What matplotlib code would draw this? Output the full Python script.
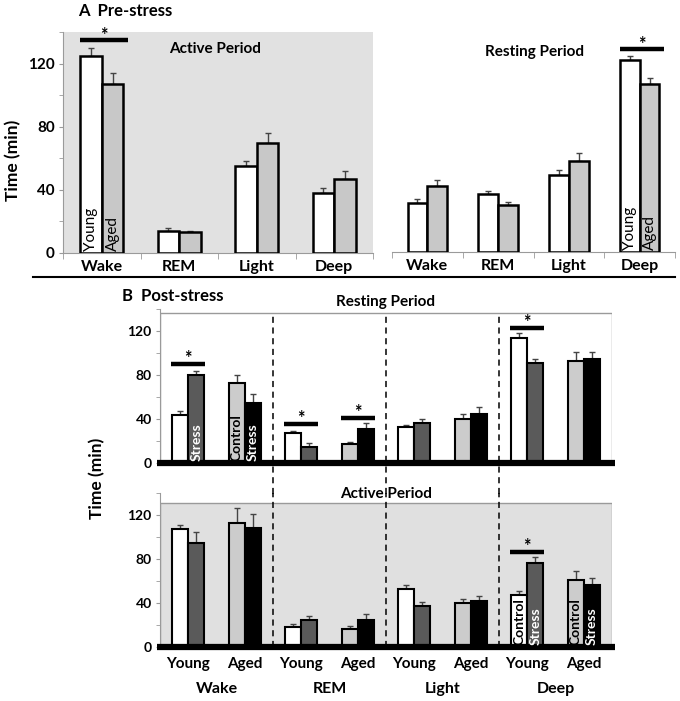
import numpy as np
import matplotlib.pyplot as plt
from matplotlib.patches import Rectangle
from matplotlib.lines import Line2D

plt.rcParams['font.family'] = ['Lato', 'DejaVu Sans']

# ======================
# data (minutes)
# ======================
stages = ['Wake', 'REM', 'Light', 'Deep']

# A: pre-stress
pre_active_young = [125, 14, 55, 38]
pre_active_young_err = [5, 2, 3, 3]
pre_active_aged = [107, 13, 70, 47]
pre_active_aged_err = [7, 1, 6, 5]
pre_rest_young = [31, 37, 49, 122]
pre_rest_young_err = [3, 2, 3, 3]
pre_rest_aged = [42, 30, 58, 107]
pre_rest_aged_err = [4, 2, 5, 4]

# B: post-stress
post_rest_young_ctrl = [44, 27, 33, 114]
post_rest_young_ctrl_err = [3, 2, 2, 4]
post_rest_young_stress = [80, 15, 36, 91]
post_rest_young_stress_err = [4, 3, 4, 4]
post_rest_aged_ctrl = [73, 17, 40, 93]
post_rest_aged_ctrl_err = [7, 2, 5, 8]
post_rest_aged_stress = [55, 31, 45, 95]
post_rest_aged_stress_err = [8, 5, 6, 6]

post_act_young_ctrl = [107, 18, 53, 47]
post_act_young_ctrl_err = [4, 3, 3, 4]
post_act_young_stress = [95, 25, 37, 76]
post_act_young_stress_err = [10, 3, 4, 6]
post_act_aged_ctrl = [113, 16, 40, 61]
post_act_aged_ctrl_err = [13, 3, 4, 8]
post_act_aged_stress = [108, 25, 42, 56]
post_act_aged_stress_err = [13, 5, 4, 7]

# significance markers: (stage index, height)
pre_active_sig = [(0, 135)]
pre_rest_sig = [(3, 129)]
post_rest_sig = [(0, 90), (2, 35.5), (3, 41), (6, 123)]   # pair index
post_act_sig = [(6, 86)]

W, H = 680, 701
fig = plt.figure(figsize=(W / 100, H / 100), dpi=100)


def px_axes(left, right, top, bottom):
    return fig.add_axes([left / W, 1 - bottom / H, (right - left) / W, (bottom - top) / H])


def bars(ax, x, vals, errs, color, w, lw):
    ax.bar(x, vals, w, color=color, edgecolor='black', linewidth=lw, zorder=3)
    ax.errorbar(x, vals, yerr=[np.zeros(len(vals)), errs], fmt='none', ecolor='#444444',
                elinewidth=1, capsize=2.5, capthick=1, zorder=2)


def sig(ax, xc, y, half, dy):
    ax.plot([xc - half, xc + half], [y, y], color='black', lw=3.2, solid_capstyle='butt',
            zorder=4, clip_on=False)
    ax.text(xc, y + dy, '*', ha='center', va='center', fontsize=13, fontweight='bold', clip_on=False)


grey_spine = '#9a9a9a'

# ======================
# A  Pre-stress
# ======================
x = np.arange(4)
w = 0.28
for ax_pos, young, ye, aged, ae, sigs, bg, title, tpos in [
    ((63, 373, 32, 253), pre_active_young, pre_active_young_err, pre_active_aged, pre_active_aged_err,
     pre_active_sig, '#e1e1e1', 'Active Period', (1.46, 129)),
    ((392, 675, 32, 252), pre_rest_young, pre_rest_young_err, pre_rest_aged, pre_rest_aged_err,
     pre_rest_sig, 'white', 'Resting Period', (1.52, 127)),
]:
    ax = px_axes(*ax_pos)
    ax.set_facecolor(bg)
    bars(ax, x - w / 2, young, ye, 'white', w, 1.8)
    bars(ax, x + w / 2, aged, ae, '#c8c8c8', w, 1.8)
    ax.set_xlim(-0.5, 3.5)
    ax.set_ylim(0, 140)
    for s in ['top', 'right']:
        ax.spines[s].set_visible(False)
    ax.spines['bottom'].set_color(grey_spine)
    ax.spines['left'].set_color(grey_spine)
    ax.set_xticks(x)
    ax.set_xticklabels(stages, fontsize=11.5, fontweight='bold')
    ax.set_xticks(np.arange(-0.5, 4, 1), minor=True)
    ax.tick_params(axis='x', which='major', length=0, pad=5)
    ax.tick_params(axis='x', which='minor', length=4, color=grey_spine)
    ax.text(tpos[0], tpos[1], title, ha='center', va='center', fontsize=11, fontweight='bold')
    for i, y in sigs:
        sig(ax, i + 0.03, y, 0.31, 3)
    if bg == 'white':
        ax.spines['left'].set_visible(False)
        ax.set_yticks([])
        i = 3
    else:
        ax.set_yticks([0, 40, 80, 120])
        ax.set_yticklabels(['0', '40', '80', '120'], fontsize=11, fontweight='bold')
        ax.set_yticks([20, 60, 100, 140], minor=True)
        ax.tick_params(axis='y', which='both', length=3, color=grey_spine, pad=3)
        i = 0
    ax.text(i - w / 2, 1.5, 'Young', rotation=90, ha='center', va='bottom', fontsize=11, zorder=5)
    ax.text(i + w / 2, 1.5, 'Aged', rotation=90, ha='center', va='bottom', fontsize=11, zorder=5)

fig.text(13 / W, 1 - 160 / H, 'Time (min)', rotation=90, ha='center', va='center',
         fontsize=12.5, fontweight='bold')
fig.text(78 / W, 1 - 11 / H, 'A  Pre-stress', ha='left', va='center', fontsize=12, fontweight='bold')
fig.add_artist(Line2D([33 / W, 675 / W], [1 - 277 / H] * 2, color='black', lw=1.5))

# ======================
# B  Post-stress
# ======================
pairs = np.arange(8)          # young / aged pair per stage
wb = 0.28
fig.text(122 / W, 1 - 296 / H, 'B  Post-stress', ha='left', va='center', fontsize=12, fontweight='bold')
fig.text(97 / W, 1 - 478 / H, 'Time (min)', rotation=90, ha='center', va='center',
         fontsize=12.5, fontweight='bold')

panels = [
    ((160, 612, 309, 463), 'Resting Period', 146, 136, 'none',
     post_rest_young_ctrl, post_rest_young_ctrl_err, post_rest_young_stress, post_rest_young_stress_err,
     post_rest_aged_ctrl, post_rest_aged_ctrl_err, post_rest_aged_stress, post_rest_aged_stress_err,
     post_rest_sig),
    ((160, 612, 493, 647), 'Active Period', 139, 131, '#e0e0e0',
     post_act_young_ctrl, post_act_young_ctrl_err, post_act_young_stress, post_act_young_stress_err,
     post_act_aged_ctrl, post_act_aged_ctrl_err, post_act_aged_stress, post_act_aged_stress_err,
     post_act_sig),
]

for k, (pos, title, ty, box_top, box_fc, yc, yce, ys, yse, ac, ace, ast, aste, sigs) in enumerate(panels):
    ax = px_axes(*pos)
    ax.set_facecolor('none')
    ax.set_xlim(-0.5, 7.5)
    ax.set_ylim(0, 140)
    ax.add_patch(Rectangle((-0.5, 0), 8, box_top, facecolor=box_fc, edgecolor=grey_spine,
                           lw=1, zorder=0))
    yp = pairs[0::2]
    ap = pairs[1::2]
    bars(ax, yp - wb / 2, yc, yce, 'white', wb, 1.5)
    bars(ax, yp + wb / 2, ys, yse, '#5a5a5a', wb, 1.5)
    bars(ax, ap - wb / 2, ac, ace, '#cccccc', wb, 1.5)
    bars(ax, ap + wb / 2, ast, aste, 'black', wb, 1.5)
    ax.plot([-0.55, 7.55], [0, 0], color='black', lw=4.5, zorder=5, clip_on=False,
            solid_capstyle='butt')
    for s in ['top', 'right', 'bottom']:
        ax.spines[s].set_visible(False)
    ax.spines['left'].set_color(grey_spine)
    ax.set_xticks([])
    ax.set_yticks([0, 40, 80, 120])
    ax.set_yticklabels(['0', '40', '80', '120'], fontsize=10, fontweight='bold')
    ax.set_yticks([20, 60, 100, 140], minor=True)
    ax.tick_params(axis='y', which='both', length=3, color=grey_spine, pad=3)
    ax.text(3.5, ty, title, ha='center', va='center', fontsize=11, fontweight='bold', clip_on=False)
    for i, y in sigs:
        sig(ax, i, y, 0.3, 5)

    # dashed separators between stages
    for xd in [1.5, 3.5, 5.5]:
        if k == 0:
            ax.plot([xd, xd], [-28, box_top], color='black', lw=1.1, ls=(0, (4, 3)),
                    clip_on=False, zorder=1)
        else:
            ax.plot([xd, xd], [0, 140], color='black', lw=1.1, ls=(0, (4, 3)),
                    clip_on=False, zorder=1)

    # legend text inside bars
    lab = dict(rotation=90, ha='center', va='bottom', fontsize=10, fontweight='bold', zorder=6)
    if k == 0:
        ax.text(0 + wb / 2, 2, 'Stress', color='white', **lab)
        ax.text(1 - wb / 2, 2, 'Control', color='black', **lab)
        ax.text(1 + wb / 2, 2, 'Stress', color='white', **lab)
    else:
        ax.text(6 - wb / 2, 2, 'Control', color='black', **lab)
        ax.text(6 + wb / 2, 2, 'Stress', color='white', **lab)
        ax.text(7 - wb / 2, 2, 'Control', color='black', **lab)
        ax.text(7 + wb / 2, 2, 'Stress', color='white', **lab)
        for p in pairs:
            ax.text(p, -15.5, 'Young' if p % 2 == 0 else 'Aged', ha='center', va='center',
                    fontsize=11, fontweight='bold', clip_on=False)
        for j, st in enumerate(stages):
            ax.text(2 * j + 0.5, -38, st, ha='center', va='center', fontsize=11.5,
                    fontweight='bold', clip_on=False)

fig.savefig('out.png', dpi=100)
